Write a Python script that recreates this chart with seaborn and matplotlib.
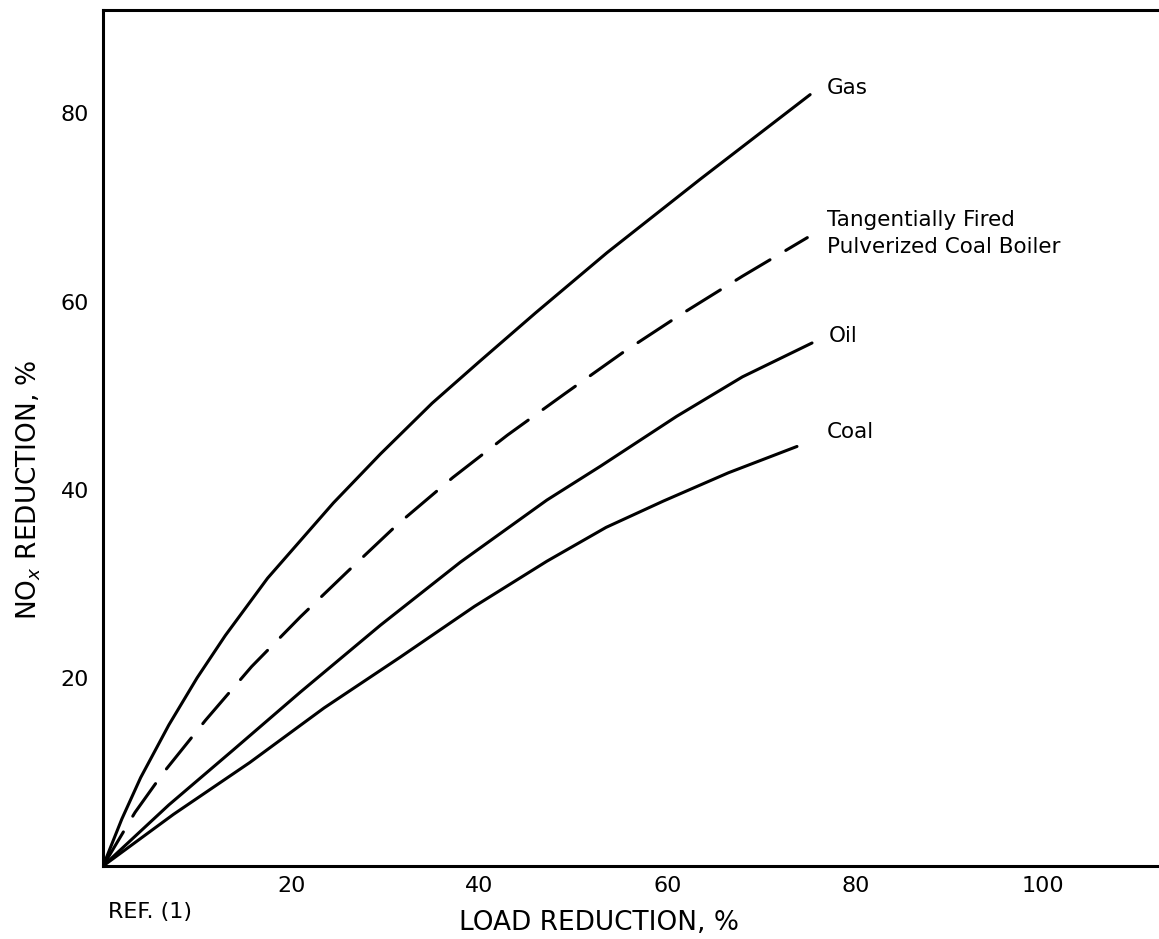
import numpy as np
import pandas as pd
import matplotlib
matplotlib.use("Agg")
import matplotlib.pyplot as plt
import seaborn as sns

# values (load reduction %, NOx reduction %)
gas_x = [0, 2, 4, 7, 10, 13, 17.5, 24.5, 29.5, 35, 40, 46, 53.6, 63.5, 75.2]
gas_y = [0, 5.0, 9.4, 15.0, 20.0, 24.5, 30.6, 38.6, 43.8, 49.2, 53.6, 58.8, 65.2, 73.0, 82.0]

tang_x = [0, 3.4, 6.4, 10.9, 15.8, 21, 26, 31.3, 37.2, 43, 49.1, 55.3, 61.4, 68, 74.9]
tang_y = [0, 5.7, 9.9, 15.5, 21.2, 26.5, 31.3, 36.3, 41.3, 45.8, 50.2, 54.6, 58.6, 62.7, 66.8]

oil_x = [0, 7, 13.8, 21, 29.5, 38, 47.2, 52.9, 61, 68, 75.4]
oil_y = [0, 6.5, 12.3, 18.5, 25.6, 32.3, 38.9, 42.5, 47.8, 52.0, 55.6]

coal_x = [0, 7.5, 15.6, 23.5, 31.6, 39.5, 47.2, 53.5, 59.6, 66.5, 73.8]
coal_y = [0, 5.5, 11.0, 16.8, 22.2, 27.6, 32.4, 36.0, 38.8, 41.8, 44.6]

series_names = ["Gas", "Tangentially Fired\nPulverized Coal Boiler", "Oil", "Coal"]
label_pos = [(77, 82.7), (77, 67.2), (77.2, 56.3), (77, 46.1)]

frames = []
for name, xs, ys in zip(series_names,
                        [gas_x, tang_x, oil_x, coal_x],
                        [gas_y, tang_y, oil_y, coal_y]):
    frames.append(pd.DataFrame({"load": xs, "nox": ys, "fuel": name}))
df = pd.concat(frames, ignore_index=True)

sns.set_theme(style="white")
plt.rcParams["font.family"] = ["DejaVu Sans"]
plt.rcParams["text.color"] = "black"
plt.rcParams["axes.labelcolor"] = "black"

fig = plt.figure(figsize=(11.59, 9.39), dpi=100)
ax = fig.add_axes([0.0889, 0.0777, 0.9111, 0.9117])

dash_map = {n: "" for n in series_names}
dash_map[series_names[1]] = (13, 6)
sns.lineplot(data=df, x="load", y="nox", hue="fuel", style="fuel",
             palette=["black"] * 4, dashes=dash_map, sort=False,
             estimator=None, linewidth=2.2, legend=False, ax=ax)
for line in ax.get_lines():
    line.set_solid_joinstyle("round")
    line.set_dash_capstyle("round")

for name, (lx, ly) in zip(series_names, label_pos):
    ax.text(lx, ly, name, fontsize=15.5, va="center", ha="left",
            linespacing=1.45, color="black")

ax.set_xlim(0, 112.3)
ax.set_ylim(0, 91)
ax.set_xticks([20, 40, 60, 80, 100])
ax.set_yticks([20, 40, 60, 80])
ax.tick_params(direction="in", length=11.5, width=2, colors="black",
               labelsize=16)
ax.tick_params(axis="x", pad=7)
ax.tick_params(axis="y", pad=10)
for s in ["left", "bottom", "top"]:
    ax.spines[s].set_color("black")
    ax.spines[s].set_linewidth(2.2)
ax.spines["right"].set_visible(False)

ax.set_xlabel("LOAD REDUCTION, %", fontsize=19, color="black")
ax.set_ylabel("NO$_x$ REDUCTION, %", fontsize=19, color="black")
ax.xaxis.set_label_coords(0.47, -0.0666)
ax.xaxis.label.set_va("center")
ax.yaxis.set_label_coords(-0.07, 0.44)
ax.yaxis.label.set_va("center")
fig.text(108 / 1159, 1 - 912 / 939, "REF. (1)", fontsize=16, va="center",
         ha="left", color="black")

fig.savefig("out.png", dpi=100)
